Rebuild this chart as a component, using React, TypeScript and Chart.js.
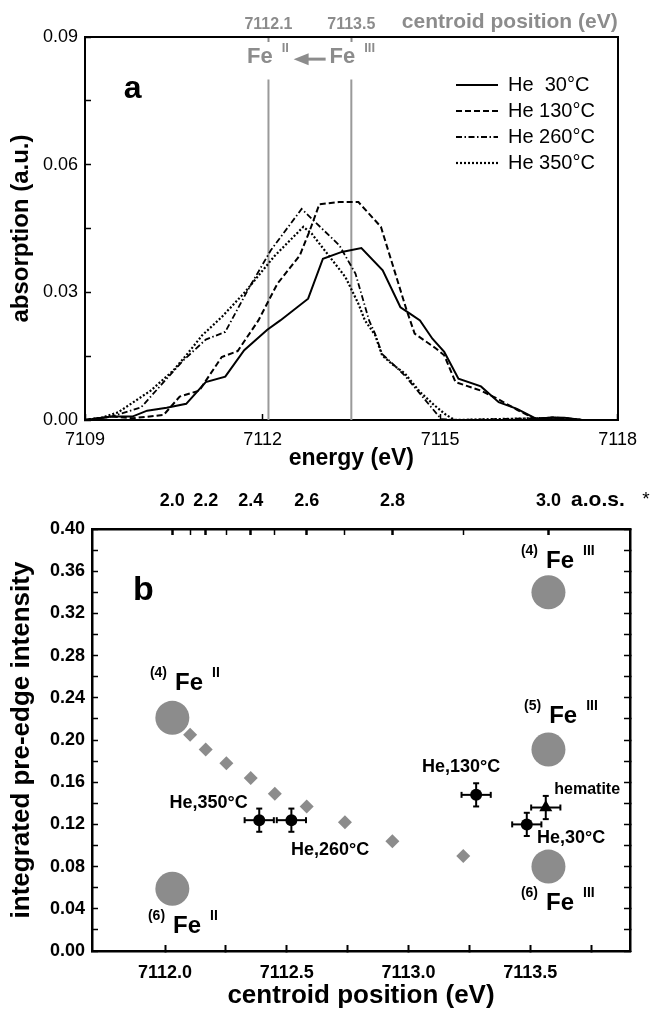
import React, { useEffect, useRef } from 'react';
import { Chart, registerables } from 'chart.js';

Chart.register(...registerables);

const FONT = "'Liberation Sans', Arial, Helvetica, sans-serif";
Chart.defaults.font.family = FONT;
Chart.defaults.color = '#000';
const GRAY = '#8c8c8c';

// ================= Panel (a): pre-edge spectra =================
const energyTicks = [7109, 7112, 7115, 7118];
const absorptionTicks = [0, 0.015, 0.03, 0.045, 0.06, 0.075, 0.09];
const seriesNames = ['He  30°C', 'He 130°C', 'He 260°C', 'He 350°C'];

const energy30 = [7109.0, 7109.45, 7109.8, 7110.05, 7110.38, 7110.71, 7111.04, 7111.37, 7111.69, 7112.08, 7112.3, 7112.77, 7113.02, 7113.34, 7113.67, 7114.03, 7114.33, 7114.49, 7114.66, 7114.87, 7115.07, 7115.31, 7115.69, 7115.99, 7116.3, 7116.62, 7116.9, 7117.1, 7117.4];
const absorb30 = [0, 0.0008, 0.0008, 0.0022, 0.0029, 0.0038, 0.0089, 0.0102, 0.0164, 0.0212, 0.0234, 0.0285, 0.0379, 0.0395, 0.0404, 0.0352, 0.0265, 0.025, 0.0234, 0.0191, 0.016, 0.0097, 0.0079, 0.0042, 0.0026, 0.0003, 0.0006, 0.0005, 0];

const energy130 = [7109.0, 7109.45, 7109.8, 7110.33, 7110.6, 7110.93, 7111.31, 7111.58, 7111.93, 7112.25, 7112.63, 7112.8, 7112.96, 7113.29, 7113.62, 7114.0, 7114.43, 7114.57, 7114.93, 7115.07, 7115.26, 7115.69, 7115.97, 7116.3, 7116.62, 7116.9, 7117.1, 7117.4];
const absorb130 = [0, 0.0008, 0.0004, 0.0012, 0.0055, 0.0069, 0.0148, 0.0162, 0.0234, 0.032, 0.0387, 0.0446, 0.0507, 0.0512, 0.0512, 0.0454, 0.026, 0.0203, 0.0168, 0.0152, 0.0089, 0.0069, 0.005, 0.0024, 0.0002, 0.0006, 0.0004, 0];

const energy260 = [7109.0, 7109.45, 7109.95, 7110.38, 7110.66, 7111.04, 7111.37, 7111.75, 7112.14, 7112.66, 7113.3, 7113.57, 7113.8, 7113.9, 7114.02, 7114.2, 7114.4, 7114.66, 7114.85, 7115.02, 7115.3, 7116.9, 7117.1, 7117.4];
const absorb260 = [0, 0.0008, 0.003, 0.0097, 0.014, 0.0189, 0.0207, 0.0305, 0.0399, 0.0496, 0.041, 0.0344, 0.0234, 0.0203, 0.0155, 0.0132, 0.0105, 0.0062, 0.003, 0.0002, 0, 0.0005, 0.0004, 0];

const energy350 = [7109.0, 7109.3, 7109.56, 7110.11, 7110.49, 7110.71, 7110.98, 7111.31, 7111.7, 7112.2, 7112.69, 7112.83, 7113.07, 7113.4, 7113.62, 7113.73, 7113.9, 7114.02, 7114.2, 7114.4, 7114.66, 7114.9, 7115.1, 7115.25, 7116.9, 7117.1, 7117.4];
const absorb350 = [0, 0.0006, 0.0018, 0.0069, 0.0116, 0.0152, 0.0199, 0.0242, 0.03, 0.0385, 0.0454, 0.0438, 0.0395, 0.0336, 0.0273, 0.0234, 0.02, 0.0152, 0.013, 0.011, 0.0066, 0.0035, 0.0012, 0, 0.0005, 0.0004, 0];

const centroidMarks = [7112.1, 7113.5];
const centroidMarkLabels = ['7112.1', '7113.5'];
const centroidMarkTop = 0.08;

// ================= Panel (b): intensity vs centroid =================
const centroidTicks = [7112.0, 7112.25, 7112.5, 7112.75, 7113.0, 7113.25, 7113.5, 7113.75];
const intensityTicks = [0, 0.02, 0.04, 0.06, 0.08, 0.1, 0.12, 0.14, 0.16, 0.18, 0.2, 0.22, 0.24, 0.26, 0.28, 0.3, 0.32, 0.34, 0.36, 0.38, 0.4];
const aosValues = [2.0, 2.1, 2.2, 2.3, 2.4, 2.5, 2.6, 2.7, 2.8, 2.9, 3.0];
const aosCentroid = [7112.03, 7112.103, 7112.167, 7112.252, 7112.352, 7112.451, 7112.582, 7112.739, 7112.934, 7113.225, 7113.575];
const mixIntensity = [0.205, 0.191, 0.178, 0.164, 0.149, 0.137, 0.122, 0.104, 0.09]; // a.o.s. 2.1 ... 2.9
const refCentroid = [7112.03, 7112.03, 7113.575, 7113.575, 7113.575];
const refIntensity = [0.221, 0.059, 0.34, 0.191, 0.08];
const refCoord = ['(4)', '(6)', '(4)', '(5)', '(6)'];
const refOx = ['II', 'II', 'III', 'III', 'III'];
const sampleNames = ['He,30°C', 'He,130°C', 'He,260°C', 'He,350°C'];
const sampleCentroid = [7113.486, 7113.278, 7112.519, 7112.387];
const sampleIntensity = [0.12, 0.148, 0.124, 0.124];
const hematiteName = 'hematite';
const hematiteCentroid = [7113.564];
const hematiteIntensity = [0.136];
const centroidError = 0.06;
const intensityError = 0.011;

// ---------- layout / styling (not data) ----------
const lineStylesA = [
  { width: 2, dash: [] as number[] },
  { width: 2, dash: [6, 3] },
  { width: 1.8, dash: [6, 2.5, 1.5, 2.5] },
  { width: 2.2, dash: [2, 2] },
];
const annotAPos = {
  letter: [7109.656, 0.0757],
  fe2: [7111.738, 0.0839],
  fe3: [7113.131, 0.0839],
  arrowTip: 7112.525,
  arrowTail: 7113.066,
  arrowY: 0.0848,
};
const legendA = { left: 450, top: 69 };
const refLabelPos = [[7112.041, 0.2474], [7112.033, 0.0171], [7113.565, 0.363], [7113.578, 0.2161], [7113.565, 0.0389]];
const sampleLabelPos = [[7113.668, 0.1071], [7113.216, 0.1744], [7112.678, 0.0957], [7112.179, 0.1403]];
const hematiteLabelPos = [7113.734, 0.1526];
const letterBPos = [7111.868, 0.3327];
const aosTitlePos = [7113.668, 0.4275];
const aosStarPos = [7113.96, 0.4275];

function drawFe(ctx: CanvasRenderingContext2D, px: number, py: number, coord: string, ox: string, color: string, big: number, small: number, gapL: number, gapR: number, rise: number) {
  ctx.fillStyle = color;
  ctx.textBaseline = 'alphabetic';
  ctx.font = `bold ${big}px ${FONT}`;
  ctx.textAlign = 'left';
  ctx.fillText('Fe', px, py);
  const w = ctx.measureText('Fe').width;
  ctx.font = `bold ${small}px ${FONT}`;
  if (coord) {
    ctx.textAlign = 'right';
    ctx.fillText(coord, px - gapL, py - rise);
  }
  ctx.textAlign = 'left';
  ctx.fillText(ox, px + w + gapR, py - rise);
}

const legendMover = {
  id: 'legendMover',
  afterLayout(chart: any) {
    const lg = chart.legend;
    if (!lg) return;
    const w = lg.width;
    const h = lg.height;
    lg.left = legendA.left;
    lg.top = legendA.top;
    lg.right = legendA.left + w;
    lg.bottom = legendA.top + h;
  },
};

const annotA = {
  id: 'annotA',
  afterDraw(chart: any) {
    const { ctx } = chart;
    const x = chart.scales.x;
    const y = chart.scales.y;
    ctx.save();
    ctx.fillStyle = '#000';
    ctx.font = `bold 32px ${FONT}`;
    ctx.textAlign = 'left';
    ctx.textBaseline = 'alphabetic';
    ctx.fillText('a', x.getPixelForValue(annotAPos.letter[0]), y.getPixelForValue(annotAPos.letter[1]));
    drawFe(ctx, x.getPixelForValue(annotAPos.fe2[0]), y.getPixelForValue(annotAPos.fe2[1]), '', 'II', GRAY, 22, 13, 0, 9, 11);
    drawFe(ctx, x.getPixelForValue(annotAPos.fe3[0]), y.getPixelForValue(annotAPos.fe3[1]), '', 'III', GRAY, 22, 13, 0, 9, 11);
    const tip = x.getPixelForValue(annotAPos.arrowTip);
    const tail = x.getPixelForValue(annotAPos.arrowTail);
    const ay = y.getPixelForValue(annotAPos.arrowY);
    ctx.strokeStyle = GRAY;
    ctx.fillStyle = GRAY;
    ctx.lineWidth = 3;
    ctx.beginPath();
    ctx.moveTo(tail, ay);
    ctx.lineTo(tip + 12, ay);
    ctx.stroke();
    ctx.beginPath();
    ctx.moveTo(tip, ay);
    ctx.lineTo(tip + 15, ay - 6);
    ctx.lineTo(tip + 15, ay + 6);
    ctx.closePath();
    ctx.fill();
    ctx.restore();
  },
};

const annotB = {
  id: 'annotB',
  afterDatasetsDraw(chart: any) {
    const { ctx } = chart;
    const x = chart.scales.x;
    const y = chart.scales.y;
    ctx.save();
    // error bars
    const pts: number[][] = sampleCentroid.map((c, i) => [c, sampleIntensity[i]]);
    hematiteCentroid.forEach((c, i) => pts.push([c, hematiteIntensity[i]]));
    ctx.strokeStyle = '#000';
    ctx.lineWidth = 2;
    const seg = (a: number, b: number, c: number, d: number) => {
      ctx.beginPath();
      ctx.moveTo(a, b);
      ctx.lineTo(c, d);
      ctx.stroke();
    };
    pts.forEach(([cx, cy]) => {
      const px = x.getPixelForValue(cx);
      const py = y.getPixelForValue(cy);
      const x1 = x.getPixelForValue(cx - centroidError);
      const x2 = x.getPixelForValue(cx + centroidError);
      const y1 = y.getPixelForValue(cy - intensityError);
      const y2 = y.getPixelForValue(cy + intensityError);
      seg(x1, py, x2, py);
      seg(px, y1, px, y2);
      seg(x1, py - 3, x1, py + 3);
      seg(x2, py - 3, x2, py + 3);
      seg(px - 3, y1, px + 3, y1);
      seg(px - 3, y2, px + 3, y2);
    });
    // panel letter
    ctx.fillStyle = '#000';
    ctx.font = `bold 34px ${FONT}`;
    ctx.textAlign = 'left';
    ctx.textBaseline = 'alphabetic';
    ctx.fillText('b', x.getPixelForValue(letterBPos[0]), y.getPixelForValue(letterBPos[1]));
    // reference labels
    refLabelPos.forEach((p, i) => {
      drawFe(ctx, x.getPixelForValue(p[0]), y.getPixelForValue(p[1]), refCoord[i], refOx[i], '#000', 24, 14, 8, 9, 13);
    });
    // sample labels
    ctx.fillStyle = '#000';
    ctx.textAlign = 'center';
    ctx.textBaseline = 'middle';
    ctx.font = `bold 18px ${FONT}`;
    sampleLabelPos.forEach((p, i) => {
      ctx.fillText(sampleNames[i], x.getPixelForValue(p[0]), y.getPixelForValue(p[1]));
    });
    ctx.font = `bold 16px ${FONT}`;
    ctx.fillText(hematiteName, x.getPixelForValue(hematiteLabelPos[0]), y.getPixelForValue(hematiteLabelPos[1]));
    // a.o.s. axis caption
    ctx.textAlign = 'left';
    ctx.font = `bold 21px ${FONT}`;
    ctx.fillText('a.o.s.', x.getPixelForValue(aosTitlePos[0]), y.getPixelForValue(aosTitlePos[1]));
    ctx.font = `19px ${FONT}`;
    ctx.fillText('*', x.getPixelForValue(aosStarPos[0]), y.getPixelForValue(aosStarPos[1]));
    ctx.restore();
  },
};

function makeConfigA(): any {
  const seriesE = [energy30, energy130, energy260, energy350];
  const seriesA = [absorb30, absorb130, absorb260, absorb350];
  const datasets: any[] = seriesNames.map((name, i) => ({
    label: name,
    data: seriesE[i].map((e, k) => ({ x: e, y: seriesA[i][k] })),
    showLine: true,
    pointRadius: 0,
    borderColor: '#000',
    backgroundColor: '#000',
    borderWidth: lineStylesA[i].width,
    borderDash: lineStylesA[i].dash,
    tension: 0,
  }));
  centroidMarks.forEach((c) => {
    datasets.push({
      label: '',
      data: [{ x: c, y: 0 }, { x: c, y: centroidMarkTop }],
      showLine: true,
      pointRadius: 0,
      borderColor: '#9a9a9a',
      borderWidth: 2,
    });
  });
  const frame = { color: '#000', width: 2 };
  return {
    type: 'scatter',
    data: { datasets },
    options: {
      responsive: false,
      maintainAspectRatio: false,
      animation: false,
      events: [],
      layout: { padding: 0 },
      plugins: {
        tooltip: { enabled: false },
        legend: {
          position: 'chartArea',
          align: 'start',
          labels: {
            usePointStyle: true,
            pointStyle: 'line',
            pointStyleWidth: 42,
            padding: 6,
            color: '#000',
            font: { size: 20, family: FONT },
            generateLabels: (chart: any) =>
              chart.data.datasets.slice(0, 4).map((ds: any, i: number) => ({
                text: ds.label,
                fillStyle: 'rgba(0,0,0,0)',
                strokeStyle: '#000',
                lineWidth: ds.borderWidth,
                lineDash: ds.borderDash,
                pointStyle: 'line',
                hidden: false,
                datasetIndex: i,
                fontColor: '#000',
              })),
          },
        },
      },
      scales: {
        x: {
          type: 'linear',
          position: 'bottom',
          min: 7109,
          max: 7118,
          afterBuildTicks: (s: any) => { s.ticks = energyTicks.map((v) => ({ value: v })); },
          afterFit: (s: any) => { s.height = 50; },
          ticks: { autoSkip: false, maxRotation: 0, padding: 15, font: { size: 18 }, color: '#000', callback: (v: any) => String(v) },
          grid: { drawOnChartArea: false, tickLength: -6, tickWidth: 1.5, tickColor: '#000' },
          border: frame,
          title: { display: true, text: 'energy (eV)', color: '#000', font: { size: 23, weight: 'bold', lineHeight: 1 }, padding: { top: 0, bottom: 0 } },
        },
        x2: {
          type: 'linear',
          position: 'top',
          min: 7109,
          max: 7118,
          afterBuildTicks: (s: any) => { s.ticks = centroidMarks.map((v) => ({ value: v })); },
          afterFit: (s: any) => { s.height = 37; },
          ticks: { autoSkip: false, maxRotation: 0, padding: 8, color: GRAY, font: { size: 16, weight: 'bold' }, callback: (_v: any, i: number) => centroidMarkLabels[i] },
          grid: { drawOnChartArea: false, tickLength: -5, tickWidth: 2, tickColor: GRAY },
          border: frame,
          title: { display: true, text: 'centroid position (eV)', align: 'end', color: GRAY, font: { size: 21, weight: 'bold', lineHeight: 1 }, padding: { top: 12, bottom: 0 } },
        },
        y: {
          type: 'linear',
          position: 'left',
          min: 0,
          max: 0.09,
          afterBuildTicks: (s: any) => { s.ticks = absorptionTicks.map((v) => ({ value: v })); },
          afterFit: (s: any) => { s.width = 85; },
          ticks: {
            autoSkip: false,
            padding: 13,
            font: { size: 18 },
            color: '#000',
            callback: (v: any) => (Math.abs(v / 0.03 - Math.round(v / 0.03)) < 1e-6 ? Number(v).toFixed(2) : ''),
          },
          grid: { drawOnChartArea: false, tickLength: -6, tickWidth: 1.5, tickColor: '#000' },
          border: frame,
          title: { display: true, text: 'absorption (a.u.)', color: '#000', font: { size: 24, weight: 'bold', lineHeight: 1 }, padding: { top: 9, bottom: 0 } },
        },
        y2: {
          type: 'linear',
          position: 'right',
          min: 0,
          max: 0.09,
          afterFit: (s: any) => { s.width = 18; },
          ticks: { display: false },
          grid: { drawOnChartArea: false, drawTicks: false },
          border: frame,
        },
      },
    },
    plugins: [legendMover, annotA],
  };
}

function makeConfigB(): any {
  const frame = { color: '#000', width: 2.5 };
  const datasets: any[] = [
    {
      label: 'samples',
      data: sampleCentroid.map((c, i) => ({ x: c, y: sampleIntensity[i] })),
      pointStyle: 'circle',
      pointRadius: 6,
      backgroundColor: '#000',
      borderColor: '#000',
      borderWidth: 0,
    },
    {
      label: hematiteName,
      data: hematiteCentroid.map((c, i) => ({ x: c, y: hematiteIntensity[i] })),
      pointStyle: 'triangle',
      pointRadius: 7.5,
      backgroundColor: '#000',
      borderColor: '#000',
      borderWidth: 0,
    },
    {
      label: 'mixtures',
      data: mixIntensity.map((v, i) => ({ x: aosCentroid[i + 1], y: v })),
      pointStyle: 'rectRot',
      pointRadius: 7,
      backgroundColor: GRAY,
      borderColor: GRAY,
      borderWidth: 0,
    },
    {
      label: 'references',
      data: refCentroid.map((c, i) => ({ x: c, y: refIntensity[i] })),
      pointStyle: 'circle',
      pointRadius: 17,
      backgroundColor: GRAY,
      borderColor: GRAY,
      borderWidth: 0,
    },
  ];
  return {
    type: 'scatter',
    data: { datasets },
    options: {
      responsive: false,
      maintainAspectRatio: false,
      animation: false,
      events: [],
      layout: { padding: 0 },
      plugins: { tooltip: { enabled: false }, legend: { display: false } },
      scales: {
        x: {
          type: 'linear',
          position: 'bottom',
          min: 7111.7,
          max: 7113.91,
          afterBuildTicks: (s: any) => { s.ticks = centroidTicks.map((v) => ({ value: v })); },
          afterFit: (s: any) => { s.height = 58; },
          ticks: {
            autoSkip: false,
            maxRotation: 0,
            padding: 17,
            font: { size: 18, weight: 'bold' },
            color: '#000',
            callback: (v: any) => (Math.abs(v * 2 - Math.round(v * 2)) < 1e-6 ? Number(v).toFixed(1) : ''),
          },
          grid: { drawOnChartArea: false, tickLength: -6, tickWidth: 2, tickColor: '#000' },
          border: frame,
          title: { display: true, text: 'centroid position (eV)', color: '#000', font: { size: 26, weight: 'bold', lineHeight: 1 }, padding: { top: 0, bottom: 0 } },
        },
        x2: {
          type: 'linear',
          position: 'top',
          min: 7111.7,
          max: 7113.91,
          afterBuildTicks: (s: any) => { s.ticks = aosCentroid.map((v) => ({ value: v })); },
          afterFit: (s: any) => { s.height = 59; },
          ticks: {
            autoSkip: false,
            maxRotation: 0,
            padding: 23,
            font: { size: 18, weight: 'bold' },
            color: '#000',
            callback: (_v: any, i: number) => (i % 2 === 0 ? aosValues[i].toFixed(1) : ''),
          },
          grid: { drawOnChartArea: false, tickLength: -6, tickWidth: (c: any) => (c.index % 2 === 0 ? 2.5 : 1.5), tickColor: '#000' },
          border: frame,
        },
        y: {
          type: 'linear',
          position: 'left',
          min: 0,
          max: 0.4,
          afterBuildTicks: (s: any) => { s.ticks = intensityTicks.map((v) => ({ value: v })); },
          afterFit: (s: any) => { s.width = 92; },
          ticks: {
            autoSkip: false,
            padding: 13,
            font: { size: 18, weight: 'bold' },
            color: '#000',
            callback: (v: any) => (Math.abs(v / 0.04 - Math.round(v / 0.04)) < 1e-6 ? Number(v).toFixed(2) : ''),
          },
          grid: { drawOnChartArea: false, tickLength: -6, tickWidth: 1.5, tickColor: '#000' },
          border: frame,
          title: { display: true, text: 'integrated pre-edge intensity', color: '#000', font: { size: 26, weight: 'bold', lineHeight: 1 }, padding: { top: 9, bottom: 0 } },
        },
        y2: {
          type: 'linear',
          position: 'right',
          min: 0,
          max: 0.4,
          afterBuildTicks: (s: any) => { s.ticks = intensityTicks.map((v) => ({ value: v })); },
          afterFit: (s: any) => { s.width = 22; },
          ticks: { display: false },
          grid: { drawOnChartArea: false, tickLength: -6, tickWidth: 1.5, tickColor: '#000' },
          border: frame,
        },
      },
    },
    plugins: [annotB],
  };
}

function PanelA() {
  const ref = useRef<HTMLCanvasElement>(null);
  useEffect(() => {
    const chart = new Chart(ref.current as HTMLCanvasElement, makeConfigA());
    return () => chart.destroy();
  }, []);
  return <canvas ref={ref} width={652} height={470} style={{ display: 'block', width: 652, height: 470 }} />;
}

function PanelB() {
  const ref = useRef<HTMLCanvasElement>(null);
  useEffect(() => {
    const chart = new Chart(ref.current as HTMLCanvasElement, makeConfigB());
    return () => chart.destroy();
  }, []);
  return <canvas ref={ref} width={652} height={539} style={{ display: 'block', width: 652, height: 539 }} />;
}

export default function App() {
  return (
    <div style={{ position: 'absolute', left: 0, top: 0, width: 652, height: 1009, background: '#fff', overflow: 'hidden' }}>
      <div style={{ position: 'absolute', left: 0, top: 0 }}>
        <PanelA />
      </div>
      <div style={{ position: 'absolute', left: 0, top: 470 }}>
        <PanelB />
      </div>
    </div>
  );
}
